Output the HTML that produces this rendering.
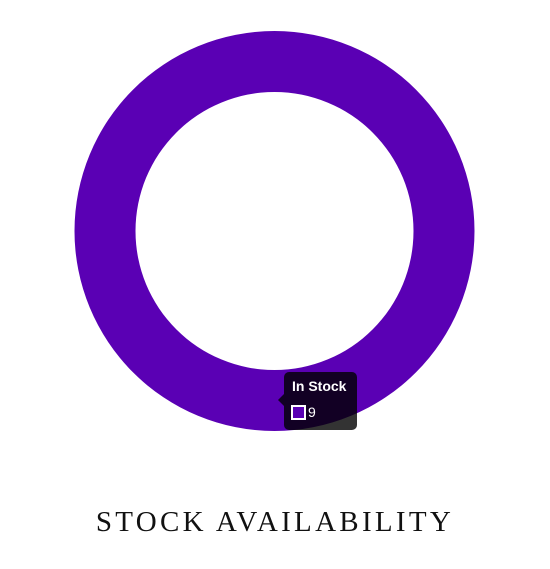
<!DOCTYPE html>
<html><head><style>
body{margin:0;width:550px;height:569px;background:#fff;overflow:hidden;position:relative}
#title{position:absolute;left:0;width:550px;top:506px;text-align:center;font-family:"Liberation Serif",serif;font-size:29px;letter-spacing:3.3px;color:#111}
#tip{position:absolute;left:284px;top:372px;width:73px;height:58px;background:rgba(0,0,0,0.8);border-radius:5px;font-family:"Liberation Sans",sans-serif;color:#fff}
#tip:before{content:"";position:absolute;left:-6px;top:22px;border-right:6px solid rgba(0,0,0,0.8);border-top:6px solid transparent;border-bottom:6px solid transparent}
</style></head><body>
<svg id="chart" width="550" height="480" style="position:absolute;left:0;top:0"></svg>
<div id="tip">
<div style="position:absolute;left:8px;top:6px;font-weight:bold;font-size:14px">In Stock</div>
<div style="position:absolute;left:7px;top:33px;width:15px;height:15px;border:2px solid #fff;background:#5a00b4;box-sizing:border-box"></div>
<div style="position:absolute;left:24px;top:32px;font-size:14px">9</div>
</div>
<div id="title">STOCK AVAILABILITY</div>
<script>
const labels=["In Stock"];
const values=[9];
const colors=["#5a00b4"];
const svg=document.getElementById('chart');
const cx=274.5,cy=231,R=200,r=139;
const total=values.reduce((a,b)=>a+b,0);
let ang=-Math.PI/2;
values.forEach((v,i)=>{
  const frac=v/total;
  let el;
  if(frac>=0.9999){
    el=document.createElementNS("http://www.w3.org/2000/svg","path");
    el.setAttribute('d',`M${cx-R},${cy}A${R},${R} 0 1 0 ${cx+R},${cy}A${R},${R} 0 1 0 ${cx-R},${cy}ZM${cx-r},${cy}A${r},${r} 0 1 1 ${cx+r},${cy}A${r},${r} 0 1 1 ${cx-r},${cy}Z`);
  }else{
    const a2=ang+frac*2*Math.PI,lg=frac>0.5?1:0;
    const p=(rad,a)=>[cx+rad*Math.cos(a),cy+rad*Math.sin(a)];
    const [x1,y1]=p(R,ang),[x2,y2]=p(R,a2),[x3,y3]=p(r,a2),[x4,y4]=p(r,ang);
    el=document.createElementNS("http://www.w3.org/2000/svg","path");
    el.setAttribute('d',`M${x1},${y1}A${R},${R} 0 ${lg} 1 ${x2},${y2}L${x3},${y3}A${r},${r} 0 ${lg} 0 ${x4},${y4}Z`);
    ang=a2;
  }
  el.setAttribute('fill',colors[i%colors.length]);
  el.setAttribute('fill-rule','evenodd');
  
  
  svg.appendChild(el);
});
</script>
</body></html>
